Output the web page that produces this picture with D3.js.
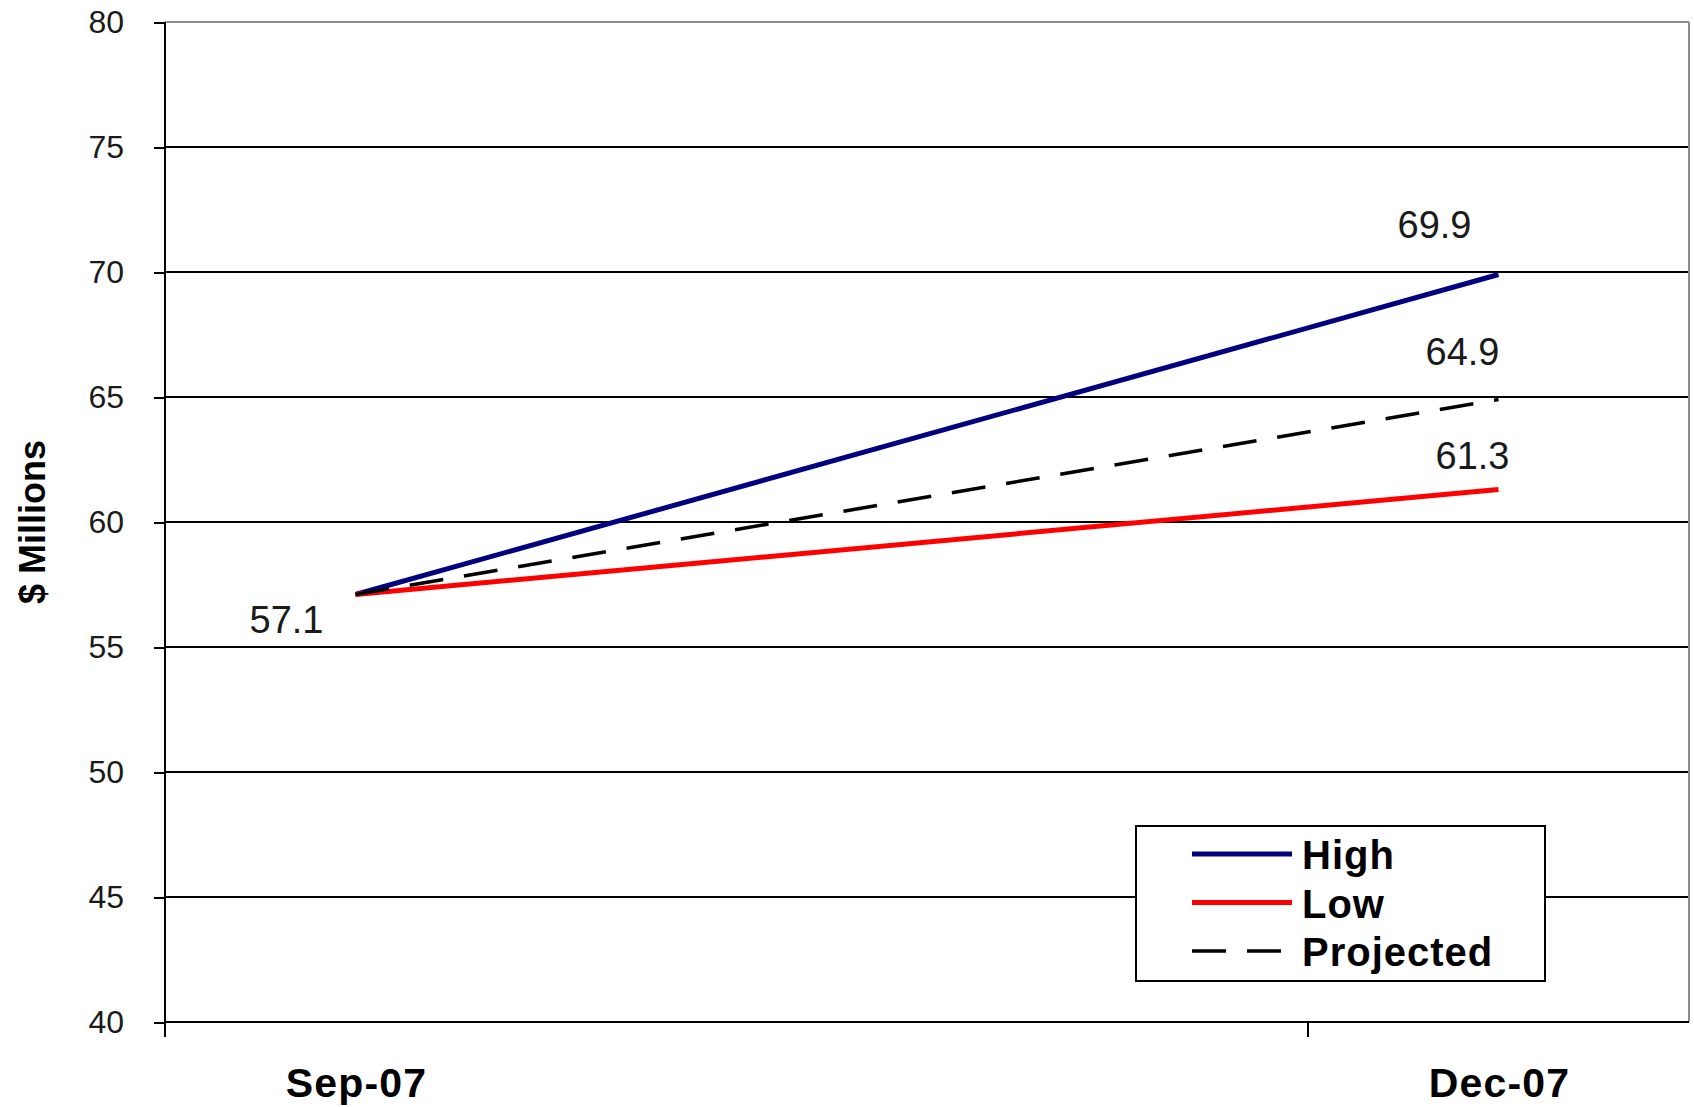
<!DOCTYPE html>
<html>
<head>
<meta charset="utf-8">
<script src="https://cdn.jsdelivr.net/npm/d3@7"></script>
<style>
  html, body { margin: 0; padding: 0; background: #ffffff; }
  svg { display: block; font-family: "Liberation Sans", Arial, sans-serif; }
</style>
</head>
<body>
<svg id="chart" width="1694" height="1107"></svg>
<script>
// Monthly date axis: each month is one band, only quarter months get a label
const months = ["Sep-07", "Oct-07", "Nov-07", "Dec-07"];
const labelledMonths = ["Sep-07", "Dec-07"];
const yTicks = [40, 45, 50, 55, 60, 65, 70, 75, 80];

// Series: start (Sep-07) and end (Dec-07) values, $ millions
const seriesNames = ["High", "Low", "Projected"];
const seriesDates = ["Sep-07", "Dec-07"];
const highValues = [57.1, 69.9];
const lowValues = [57.1, 61.3];
const projectedValues = [57.1, 64.9];

const series = [
  { name: seriesNames[0], values: highValues, color: "#000080", width: 5, dash: null },
  { name: seriesNames[1], values: lowValues, color: "#ff0000", width: 5, dash: null },
  { name: seriesNames[2], values: projectedValues, color: "#000000", width: 3.5, dash: "34,21" }
];

const svg = d3.select("#chart");
const plotLeft = 165, plotRight = 1689, plotTop = 22, plotBottom = 1022;

const x = d3.scaleBand().domain(months).range([plotLeft, plotRight]).paddingInner(0).paddingOuter(0);
const y = d3.scaleLinear().domain([40, 80]).range([plotBottom, plotTop]);
const cx = d => x(d) + x.bandwidth() / 2;

// Horizontal gridlines (top one is the grey plot-area border)
svg.append("g")
  .selectAll("line")
  .data(yTicks.filter(v => v > 40))
  .join("line")
  .attr("x1", plotLeft).attr("x2", plotRight)
  .attr("y1", d => y(d)).attr("y2", d => y(d))
  .attr("stroke", d => d === 80 ? "#8c8c8c" : "#000")
  .attr("stroke-width", 2)
  .attr("shape-rendering", "crispEdges");

// Right plot-area border
svg.append("line")
  .attr("x1", plotRight).attr("x2", plotRight)
  .attr("y1", plotTop).attr("y2", plotBottom)
  .attr("stroke", "#8c8c8c").attr("stroke-width", 2)
  .attr("shape-rendering", "crispEdges");

// Y axis
const yAxis = d3.axisLeft(y).tickValues(yTicks).tickSize(11).tickPadding(30).tickFormat(d3.format("d"));
const gy = svg.append("g").attr("transform", `translate(${plotLeft},0)`).call(yAxis);
gy.select(".domain").attr("stroke", "#000").attr("stroke-width", 2)
  .attr("d", `M0,${plotTop}V${plotBottom + 15}`);
gy.selectAll(".tick line").attr("stroke", "#000").attr("stroke-width", 2).attr("shape-rendering", "crispEdges");
gy.selectAll(".tick text")
  .attr("fill", "#1a1a1a")
  .style("font-size", "32px")
  .style("font-family", "'Liberation Sans', Arial, sans-serif")
  .attr("dy", "0.34em");

// X axis: ticks at the start of labelled months, labels centred in the month band
const gx = svg.append("g");
gx.append("line")
  .attr("x1", plotLeft).attr("x2", plotRight)
  .attr("y1", plotBottom).attr("y2", plotBottom)
  .attr("stroke", "#000").attr("stroke-width", 2)
  .attr("shape-rendering", "crispEdges");
gx.selectAll("line.tick")
  .data(labelledMonths)
  .join("line")
  .attr("class", "tick")
  .attr("x1", d => x(d)).attr("x2", d => x(d))
  .attr("y1", plotBottom).attr("y2", plotBottom + 15)
  .attr("stroke", "#000").attr("stroke-width", 2)
  .attr("shape-rendering", "crispEdges");
gx.selectAll("text")
  .data(labelledMonths)
  .join("text")
  .attr("x", d => cx(d) + 1)
  .attr("y", 1097)
  .attr("text-anchor", "middle")
  .attr("font-weight", "bold")
  .attr("font-size", 41)
  .attr("letter-spacing", 1.2)
  .attr("fill", "#000")
  .text(d => d);

// Y axis title
svg.append("text")
  .attr("transform", `translate(45,522) rotate(-90)`)
  .attr("text-anchor", "middle")
  .attr("font-weight", "bold")
  .attr("font-size", 36)
  .attr("fill", "#000")
  .text("$ Millions");

// Series lines
const line = d3.line()
  .x((d, i) => cx(seriesDates[i]))
  .y(d => y(d));

svg.append("g")
  .selectAll("path")
  .data(series)
  .join("path")
  .attr("d", s => line(s.values))
  .attr("fill", "none")
  .attr("stroke", s => s.color)
  .attr("stroke-width", s => s.width)
  .attr("stroke-dasharray", s => s.dash)
  .attr("stroke-linecap", "butt");

// Data labels
const labelStyle = sel => sel
  .attr("text-anchor", "middle")
  .attr("font-size", 38)
  .attr("fill", "#1a1a1a");

const endX = cx(seriesDates[1]);
const startX = cx(seriesDates[0]);
const endLabels = [
  { v: highValues[1], dx: -64, dy: -37 },
  { v: projectedValues[1], dx: -36, dy: -35 },
  { v: lowValues[1], dx: -26, dy: -21 }
];
svg.append("g")
  .selectAll("text")
  .data(endLabels)
  .join("text")
  .call(labelStyle)
  .attr("x", d => endX + d.dx)
  .attr("y", d => y(d.v) + d.dy)
  .text(d => d3.format(".1f")(d.v));

svg.append("text")
  .call(labelStyle)
  .attr("x", startX - 69)
  .attr("y", y(highValues[0]) + 38)
  .text(d3.format(".1f")(highValues[0]));

// Legend
const legend = svg.append("g");
legend.append("rect")
  .attr("x", 1136).attr("y", 826)
  .attr("width", 409).attr("height", 155)
  .attr("fill", "#fff")
  .attr("stroke", "#000").attr("stroke-width", 2)
  .attr("shape-rendering", "crispEdges");

const rows = legend.selectAll("g.row")
  .data(series)
  .join("g")
  .attr("class", "row")
  .attr("transform", (d, i) => `translate(0,${854 + i * 48.5})`);
rows.append("line")
  .attr("x1", 1192).attr("x2", 1292)
  .attr("y1", 0).attr("y2", 0)
  .attr("stroke", d => d.color)
  .attr("stroke-width", d => d.dash ? 3.5 : 5)
  .attr("stroke-dasharray", d => d.dash ? "34,21" : null);
rows.append("text")
  .attr("x", 1302)
  .attr("y", 15)
  .attr("font-weight", "bold")
  .attr("font-size", 40)
  .attr("letter-spacing", 1)
  .attr("fill", "#000")
  .text(d => d.name);
</script>
</body>
</html>
